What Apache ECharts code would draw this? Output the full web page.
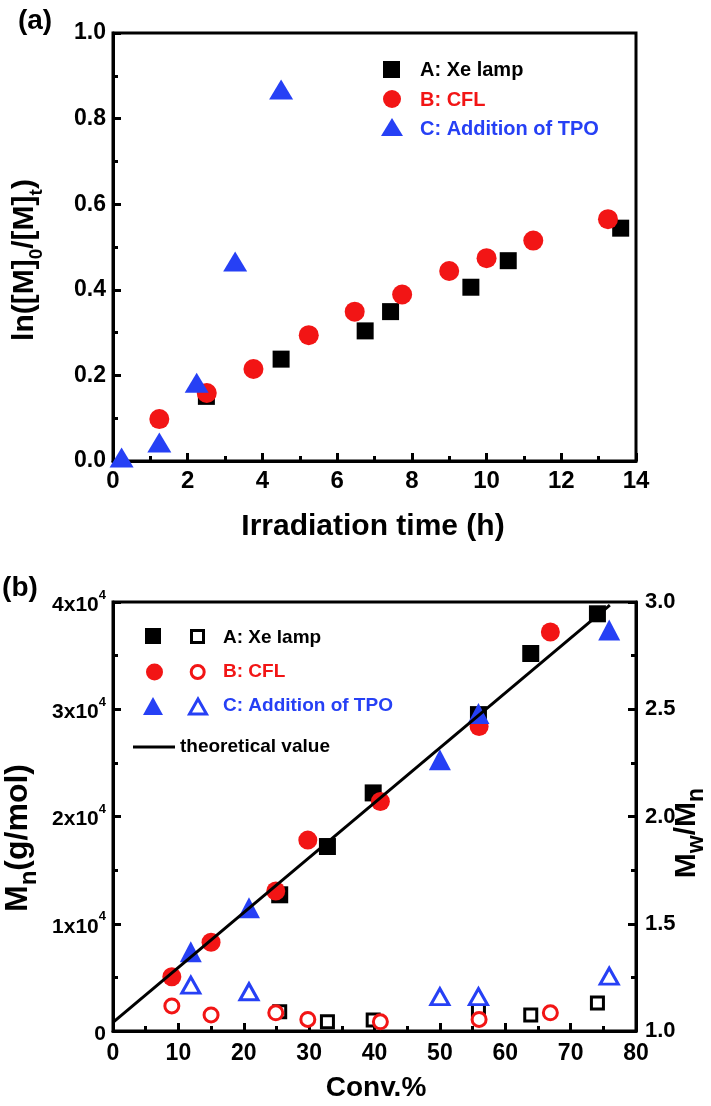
<!DOCTYPE html>
<html><head><meta charset="utf-8">
<script src="https://cdn.jsdelivr.net/npm/echarts/dist/echarts.min.js"></script>
<style>html,body{margin:0;padding:0;background:#fff}#c{width:711px;height:1106px}</style>
</head><body><div id="c"></div>
<script>
// ---- Panel (a): ln([M]0/[M]t) vs irradiation time ----
const timeA = [2.5, 4.5, 6.75, 7.43, 9.58, 10.58, 13.59];
const lnA   = [0.151, 0.238, 0.304, 0.349, 0.406, 0.468, 0.544];
const timeB = [1.24, 2.51, 3.76, 5.24, 6.47, 7.74, 9.0, 10.0, 11.25, 13.25];
const lnB   = [0.098, 0.159, 0.215, 0.294, 0.349, 0.389, 0.444, 0.474, 0.515, 0.565];
const timeC = [0.23, 1.24, 2.24, 3.27, 4.5];
const lnC   = [0.008, 0.043, 0.183, 0.466, 0.868];
const xTicksA = [0, 2, 4, 6, 8, 10, 12, 14];
const yTicksA = [0.0, 0.2, 0.4, 0.6, 0.8, 1.0];

// ---- Panel (b): Mn and Mw/Mn vs conversion ----
const convA = [25.5, 32.8, 39.8, 55.9, 63.9, 74.1];
const MnA   = [12700, 17200, 22200, 29500, 35200, 38900];
const PDIA  = [1.09, 1.043, 1.051, 1.098, 1.075, 1.13];
const convB = [9.0, 15.0, 24.9, 29.8, 40.9, 56.0, 66.9];
const MnB   = [5060, 8270, 13050, 17800, 21400, 28400, 37200];
const PDIB  = [1.117, 1.075, 1.085, 1.054, 1.043, 1.054, 1.085];
const convC = [11.9, 20.8, 50.0, 55.9, 75.9];
const MnC   = [7400, 11500, 25300, 29600, 37400];
const PDIC  = [1.214, 1.183, 1.16, 1.16, 1.256];
const theoryConv = [0, 76];
const theoryMn   = [800, 39700];
const xTicksB = [0, 10, 20, 30, 40, 50, 60, 70, 80];
const yTicksMn = [0, 10000, 20000, 30000, 40000];
const yTicksPDI = [1.0, 1.5, 2.0, 2.5, 3.0];

const RED = '#f21515';
const BLUE = '#2640f5';
const FF = "Arial, 'Liberation Sans', Helvetica, sans-serif";

const zip = (xs, ys) => xs.map((x, i) => [x, ys[i]]);

function axisCommon(extra) {
  return Object.assign({
    type: 'value',
    axisLine: { show: true, onZero: false, lineStyle: { color: '#000', width: 3 } },
    axisTick: { show: true, inside: true, length: 8, lineStyle: { color: '#000', width: 3 } },
    minorTick: { show: true, splitNumber: 2, length: 5, lineStyle: { color: '#000', width: 3 } },
    splitLine: { show: false },
    minorSplitLine: { show: false },
  }, extra);
}

const chart = echarts.init(document.getElementById('c'), null, { renderer: 'canvas' });

const labelBase = { color: '#000', fontWeight: 'bold', fontFamily: FF, showMinLabel: true, showMaxLabel: true };

function filled(color) { return { color: color, opacity: 1 }; }
function hollow(color) { return { color: '#fff', borderColor: color, borderWidth: 3, opacity: 1 }; }

const option = {
  backgroundColor: '#fff',
  animation: false,
  grid: [
    { left: 113, top: 33, width: 523, height: 428, show: true, borderColor: '#000', borderWidth: 3, backgroundColor: 'transparent' },
    { left: 113, top: 602, width: 523, height: 429, show: true, borderColor: '#000', borderWidth: 3, backgroundColor: 'transparent' }
  ],
  xAxis: [
    axisCommon({ gridIndex: 0, min: xTicksA[0], max: xTicksA[xTicksA.length - 1], interval: xTicksA[1] - xTicksA[0],
      axisLabel: Object.assign({}, labelBase, { fontSize: 24, margin: 8 }) }),
    axisCommon({ gridIndex: 1, min: xTicksB[0], max: xTicksB[xTicksB.length - 1], interval: xTicksB[1] - xTicksB[0],
      axisLabel: Object.assign({}, labelBase, { fontSize: 23, margin: 11 }) })
  ],
  yAxis: [
    axisCommon({ gridIndex: 0, min: yTicksA[0], max: yTicksA[yTicksA.length - 1], interval: 0.2,
      axisLabel: Object.assign({}, labelBase, { fontSize: 23, margin: 7, formatter: v => v.toFixed(1) }) }),
    axisCommon({ gridIndex: 1, min: yTicksMn[0], max: yTicksMn[yTicksMn.length - 1], interval: 10000,
      axisLabel: Object.assign({}, labelBase, {
        margin: 7,
        formatter: v => v === 0 ? '{b|0}' : '{b|' + (v / 1e4) + 'x10}{p|4}',
        rich: {
          b: { fontSize: 21, fontWeight: 'bold', fontFamily: FF, color: '#000', padding: [6, 0, 0, 0] },
          p: { fontSize: 13, fontWeight: 'bold', fontFamily: FF, color: '#000', verticalAlign: 'top' }
        }
      }) }),
    axisCommon({ gridIndex: 1, position: 'right', min: yTicksPDI[0], max: yTicksPDI[yTicksPDI.length - 1], interval: 0.5,
      axisLabel: Object.assign({}, labelBase, { fontSize: 22, margin: 9, formatter: v => v.toFixed(1) }) })
  ],
  series: [
    { type: 'scatter', name: 'A: Xe lamp', xAxisIndex: 0, yAxisIndex: 0, data: zip(timeA, lnA),
      symbol: 'rect', symbolSize: 17, itemStyle: filled('#000'), clip: false },
    { type: 'scatter', name: 'B: CFL', xAxisIndex: 0, yAxisIndex: 0, data: zip(timeB, lnB),
      symbol: 'circle', symbolSize: 20, itemStyle: filled(RED), clip: false },
    { type: 'scatter', name: 'C: Addition of TPO', xAxisIndex: 0, yAxisIndex: 0, data: zip(timeC, lnC),
      symbol: 'triangle', symbolSize: [24, 20], itemStyle: filled(BLUE), clip: false },

    { type: 'scatter', name: 'A Mn', xAxisIndex: 1, yAxisIndex: 1, data: zip(convA, MnA),
      symbol: 'rect', symbolSize: 17, itemStyle: filled('#000') },
    { type: 'scatter', name: 'B Mn', xAxisIndex: 1, yAxisIndex: 1, data: zip(convB, MnB),
      symbol: 'circle', symbolSize: 19, itemStyle: filled(RED) },
    { type: 'scatter', name: 'C Mn', xAxisIndex: 1, yAxisIndex: 1, data: zip(convC, MnC),
      symbol: 'triangle', symbolSize: [22, 21], itemStyle: filled(BLUE) },

    { type: 'scatter', name: 'A PDI', xAxisIndex: 1, yAxisIndex: 2, data: zip(convA, PDIA),
      symbol: 'rect', symbolSize: 12, itemStyle: hollow('#000') },
    { type: 'scatter', name: 'B PDI', xAxisIndex: 1, yAxisIndex: 2, data: zip(convB, PDIB),
      symbol: 'circle', symbolSize: 14, itemStyle: hollow(RED) },
    { type: 'scatter', name: 'C PDI', xAxisIndex: 1, yAxisIndex: 2, data: zip(convC, PDIC),
      symbol: 'triangle', symbolSize: [18, 16], itemStyle: hollow(BLUE) },

    { type: 'line', name: 'theoretical value', xAxisIndex: 1, yAxisIndex: 1, data: zip(theoryConv, theoryMn),
      showSymbol: false, symbol: 'none', lineStyle: { color: '#000', width: 3 }, z: 10 }
  ],
  graphic: [
    // panel labels
    { type: 'text', x: 35, y: 21, style: { text: '(a)', font: 'bold 28px ' + FF, fill: '#000', align: 'center', verticalAlign: 'middle' } },
    { type: 'text', x: 20, y: 588, style: { text: '(b)', font: 'bold 28px ' + FF, fill: '#000', align: 'center', verticalAlign: 'middle' } },
    // axis titles
    { type: 'text', x: 373, y: 527, style: { text: 'Irradiation time (h)', font: 'bold 30px ' + FF, fill: '#000', align: 'center', verticalAlign: 'middle' } },
    { type: 'text', x: 376, y: 1088, style: { text: 'Conv.%', font: 'bold 28px ' + FF, fill: '#000', align: 'center', verticalAlign: 'middle' } },
    { type: 'text', x: 28, y: 260, rotation: Math.PI / 2, style: {
        text: '{m|ln([M]}{s|0}{m|/[M]}{s|t}{m|)}', align: 'center', verticalAlign: 'middle',
        rich: {
          m: { fontSize: 30, fontWeight: 'bold', fontFamily: FF, fill: '#000', color: '#000', padding: [0, 0, 7, 0] },
          s: { fontSize: 19, fontWeight: 'bold', fontFamily: FF, fill: '#000', color: '#000', verticalAlign: 'bottom' }
        } } },
    { type: 'text', x: 22, y: 838, rotation: Math.PI / 2, style: {
        text: '{m|M}{s|n}{m|(g/mol)}', align: 'center', verticalAlign: 'middle',
        rich: {
          m: { fontSize: 32, fontWeight: 'bold', fontFamily: FF, fill: '#000', color: '#000', padding: [0, 0, 7, 0] },
          s: { fontSize: 24, fontWeight: 'bold', fontFamily: FF, fill: '#000', color: '#000', verticalAlign: 'bottom' }
        } } },
    { type: 'text', x: 690, y: 833, rotation: Math.PI / 2, style: {
        text: '{m|M}{s|w}{m|/M}{s|n}', align: 'center', verticalAlign: 'middle',
        rich: {
          m: { fontSize: 30, fontWeight: 'bold', fontFamily: FF, fill: '#000', color: '#000', padding: [0, 0, 7, 0] },
          s: { fontSize: 23, fontWeight: 'bold', fontFamily: FF, fill: '#000', color: '#000', verticalAlign: 'bottom' }
        } } },
    // legend (a)
    { type: 'rect', shape: { x: 383, y: 61, width: 17, height: 17 }, style: { fill: '#000' } },
    { type: 'circle', shape: { cx: 392, cy: 99, r: 9 }, style: { fill: RED } },
    { type: 'polygon', shape: { points: [[381, 136], [403, 136], [392, 118]] }, style: { fill: BLUE } },
    { type: 'text', x: 420, y: 70, style: { text: 'A: Xe lamp', font: 'bold 20px ' + FF, fill: '#000', verticalAlign: 'middle' } },
    { type: 'text', x: 420, y: 100, style: { text: 'B: CFL', font: 'bold 20px ' + FF, fill: RED, verticalAlign: 'middle' } },
    { type: 'text', x: 420, y: 129, style: { text: 'C: Addition of TPO', font: 'bold 20px ' + FF, fill: BLUE, verticalAlign: 'middle' } },
    // legend (b)
    { type: 'rect', shape: { x: 145, y: 628, width: 16, height: 16 }, style: { fill: '#000' } },
    { type: 'rect', shape: { x: 191.5, y: 630.5, width: 12, height: 12 }, style: { fill: '#fff', stroke: '#000', lineWidth: 3 } },
    { type: 'circle', shape: { cx: 154.5, cy: 672, r: 8.5 }, style: { fill: RED } },
    { type: 'circle', shape: { cx: 197.7, cy: 672, r: 6.5 }, style: { fill: '#fff', stroke: RED, lineWidth: 3 } },
    { type: 'polygon', shape: { points: [[143, 715], [163, 715], [153, 697]] }, style: { fill: BLUE } },
    { type: 'polygon', shape: { points: [[189.5, 714], [206.5, 714], [198, 699]] }, style: { fill: '#fff', stroke: BLUE, lineWidth: 3 } },
    { type: 'line', shape: { x1: 133, y1: 747, x2: 175, y2: 747 }, style: { stroke: '#000', lineWidth: 3 } },
    { type: 'text', x: 223, y: 638, style: { text: 'A: Xe lamp', font: 'bold 19px ' + FF, fill: '#000', verticalAlign: 'middle' } },
    { type: 'text', x: 223, y: 672, style: { text: 'B: CFL', font: 'bold 19px ' + FF, fill: RED, verticalAlign: 'middle' } },
    { type: 'text', x: 223, y: 706, style: { text: 'C: Addition of TPO', font: 'bold 19px ' + FF, fill: BLUE, verticalAlign: 'middle' } },
    { type: 'text', x: 180, y: 747, style: { text: 'theoretical value', font: 'bold 19px ' + FF, fill: '#000', verticalAlign: 'middle' } }
  ]
};
chart.setOption(option);
</script>
</body></html>
